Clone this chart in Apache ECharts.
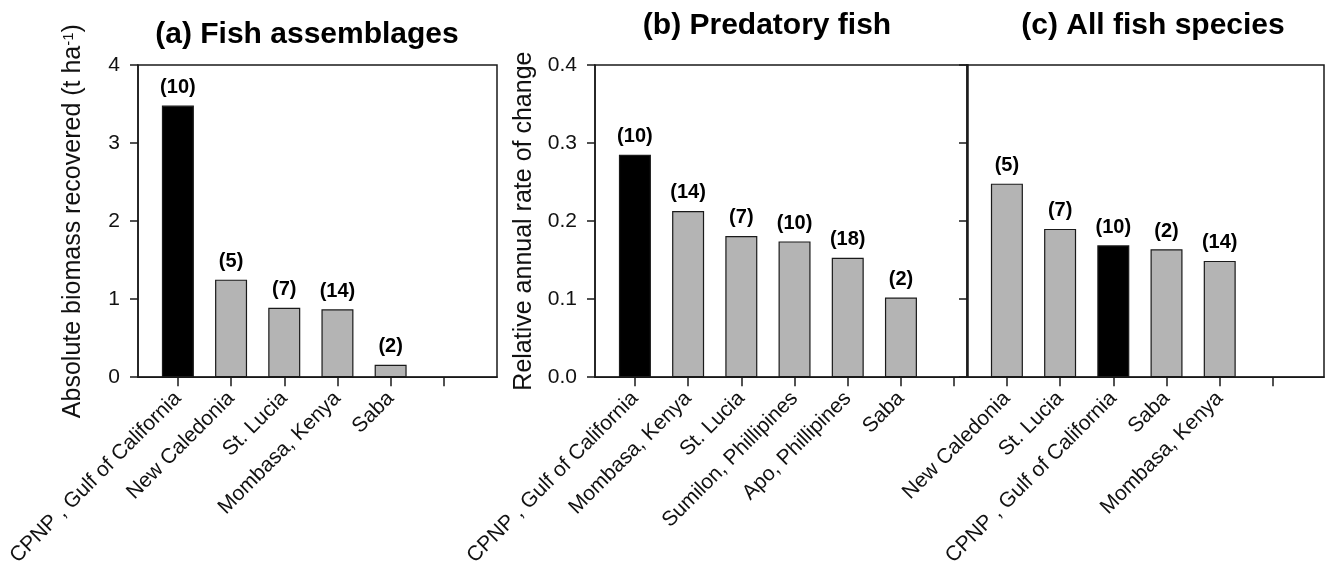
<!DOCTYPE html>
<html>
<head>
<meta charset="utf-8">
<script src="https://cdn.jsdelivr.net/npm/echarts@6/dist/echarts.min.js"></script>
<style>
html,body{margin:0;padding:0;background:#fff;}
#chart{width:1325px;height:569px;}
</style>
</head>
<body>
<div id="chart"></div>
<script>
// ---- data ----
const titles = ['(a) Fish assemblages', '(b) Predatory fish', '(c) All fish species'];

const catsA = ['CPNP , Gulf of California', 'New Caledonia', 'St. Lucia', 'Mombasa, Kenya', 'Saba'];
const valsA = [3.48, 1.25, 0.89, 0.87, 0.16];
const nA = [10, 5, 7, 14, 2];

const catsB = ['CPNP , Gulf of California', 'Mombasa, Kenya', 'St. Lucia', 'Sumilon, Phillipines', 'Apo, Phillipines', 'Saba'];
const valsB = [0.285, 0.213, 0.181, 0.174, 0.153, 0.102];
const nB = [10, 14, 7, 10, 18, 2];

const catsC = ['New Caledonia', 'St. Lucia', 'CPNP , Gulf of California', 'Saba', 'Mombasa, Kenya'];
const valsC = [0.248, 0.190, 0.169, 0.164, 0.149];
const nC = [5, 7, 10, 2, 14];

const yNameA = 'Absolute biomass recovered (t ha{sup|-1})';
const yNameB = 'Relative annual rate of change';

// ---- styling ----
const INK = '#1a1a1a';
const GRAY = '#b4b4b4';
const FONT = 'Arial, "Liberation Sans", sans-serif';

function barSeries(idx, cats, vals, ns) {
  return {
    type: 'bar',
    xAxisIndex: idx,
    yAxisIndex: idx,
    barWidth: 32,
    data: cats.map((c, i) => ({
      value: [i + 1, vals[i]],
      itemStyle: { color: c.indexOf('CPNP') === 0 ? '#000000' : GRAY }
    })),
    itemStyle: { borderColor: INK, borderWidth: 1.2 },
    label: {
      show: true,
      position: 'top',
      distance: 8,
      fontFamily: FONT,
      fontSize: 20,
      fontWeight: 'bold',
      color: '#000',
      formatter: p => '(' + ns[p.dataIndex] + ')'
    },
    silent: true,
    animation: false
  };
}

function xAxis(idx, cats, max, nTicks) {
  const ticks = [];
  for (let i = 1; i <= nTicks; i++) ticks.push(i);
  return {
    type: 'value',
    gridIndex: idx,
    min: 0.25,
    max: max,
    splitLine: { show: false },
    axisLine: { show: true, onZero: false, lineStyle: { color: INK, width: 1.5 } },
    axisTick: { show: true, inside: false, length: 9, customValues: ticks, lineStyle: { color: INK, width: 1.5 } },
    axisLabel: {
      show: true,
      customValues: cats.map((c, i) => i + 1),
      rotate: 45,
      margin: 18,
      fontFamily: FONT,
      fontSize: 21,
      color: '#111',
      formatter: v => cats[Math.round(v) - 1] || ''
    }
  };
}

function yAxis(idx, max, interval, showLabels, digits, name, nameGap) {
  return {
    type: 'value',
    gridIndex: idx,
    min: 0,
    max: max,
    interval: interval,
    splitLine: { show: false },
    axisLine: { show: true, onZero: false, lineStyle: { color: INK, width: 1.5 } },
    axisTick: { show: true, inside: false, length: 8, lineStyle: { color: INK, width: 1.5 } },
    axisLabel: {
      show: showLabels,
      margin: 18,
      fontFamily: FONT,
      fontSize: 21,
      color: '#111',
      formatter: v => v.toFixed(digits)
    },
    name: name || '',
    nameLocation: 'middle',
    nameGap: nameGap || 0,
    nameRotate: 90,
    nameTextStyle: {
      fontFamily: FONT,
      fontSize: 25,
      color: '#111',
      rich: { sup: { fontFamily: FONT, fontSize: 15, verticalAlign: 'top', color: '#111' } }
    }
  };
}

const chart = echarts.init(document.getElementById('chart'), null, { renderer: 'canvas' });

const gridStyle = { show: true, borderColor: INK, borderWidth: 1.5, backgroundColor: 'transparent' };
const titleText = { fontFamily: FONT, fontSize: 30, fontWeight: 'bold', color: '#000' };

chart.setOption({
  backgroundColor: '#ffffff',
  animation: false,
  title: [
    { text: titles[0], left: 302, top: 30, textAlign: 'center', textVerticalAlign: 'middle', textStyle: titleText },
    { text: titles[1], left: 762, top: 21, textAlign: 'center', textVerticalAlign: 'middle', textStyle: titleText },
    { text: titles[2], left: 1148, top: 21, textAlign: 'center', textVerticalAlign: 'middle', textStyle: titleText }
  ],
  grid: [
    Object.assign({ left: 138, top: 65, width: 359, height: 313 }, gridStyle),
    Object.assign({ left: 595, top: 65, width: 373, height: 313 }, gridStyle),
    Object.assign({ left: 967, top: 65, width: 357, height: 313 }, gridStyle)
  ],
  xAxis: [
    xAxis(0, catsA, 7.0, 6),
    xAxis(1, catsB, 7.26, 7),
    xAxis(2, catsC, 6.96, 6)
  ],
  yAxis: [
    yAxis(0, 4, 1, true, 0, yNameA, 52),
    yAxis(1, 0.4, 0.1, true, 1, yNameB, 58),
    yAxis(2, 0.4, 0.1, false, 1, '', 0)
  ],
  series: [
    barSeries(0, catsA, valsA, nA),
    barSeries(1, catsB, valsB, nB),
    barSeries(2, catsC, valsC, nC)
  ]
});
</script>
</body>
</html>
